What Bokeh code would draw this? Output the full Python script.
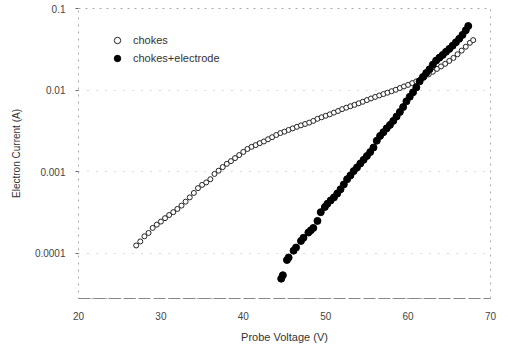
from bokeh.plotting import figure
from bokeh.models import Legend, LegendItem, FixedTicker, Range1d
from bokeh.embed import file_html
from bokeh.resources import INLINE

# ---- data ----
chokes_v = [27.0, 27.5, 28.0, 28.5, 29.0, 29.5, 30.0, 30.5, 31.0, 31.5, 32.0, 32.5,
            33.0, 33.5, 34.0, 34.5, 35.0, 35.5, 36.0, 36.5, 37.0, 37.5, 38.0, 38.5,
            39.0, 39.5, 40.0, 40.5, 41.0, 41.5, 42.0, 42.5, 43.0, 43.5, 44.0, 44.5,
            45.0, 45.5, 46.0, 46.5, 47.0, 47.5, 48.0, 48.5, 49.0, 49.5, 50.0, 50.5,
            51.0, 51.5, 52.0, 52.5, 53.0, 53.5, 54.0, 54.5, 55.0, 55.5, 56.0, 56.5,
            57.0, 57.5, 58.0, 58.5, 59.0, 59.5, 60.0, 60.5, 61.0, 61.5, 62.0, 62.5,
            63.0, 63.5, 64.0, 64.5, 65.0, 65.5, 66.0, 66.5, 67.0, 67.5, 67.9]
chokes_i = [1.25e-4, 1.40e-4, 1.62e-4, 1.78e-4, 2.05e-4, 2.25e-4, 2.45e-4, 2.70e-4,
            2.95e-4, 3.20e-4, 3.50e-4, 3.85e-4, 4.30e-4, 4.85e-4, 5.50e-4, 6.30e-4,
            6.90e-4, 7.40e-4, 8.10e-4, 9.40e-4, 1.03e-3, 1.14e-3, 1.25e-3, 1.35e-3,
            1.47e-3, 1.60e-3, 1.75e-3, 1.90e-3, 2.02e-3, 2.12e-3, 2.24e-3, 2.35e-3,
            2.50e-3, 2.65e-3, 2.82e-3, 2.98e-3, 3.10e-3, 3.25e-3, 3.40e-3, 3.55e-3,
            3.70e-3, 3.85e-3, 4.00e-3, 4.20e-3, 4.45e-3, 4.65e-3, 4.85e-3, 5.05e-3,
            5.30e-3, 5.55e-3, 5.85e-3, 6.10e-3, 6.35e-3, 6.60e-3, 6.90e-3, 7.20e-3,
            7.55e-3, 7.90e-3, 8.25e-3, 8.60e-3, 8.95e-3, 9.30e-3, 9.70e-3, 1.01e-2,
            1.06e-2, 1.11e-2, 1.16e-2, 1.22e-2, 1.28e-2, 1.36e-2, 1.45e-2, 1.56e-2,
            1.68e-2, 1.82e-2, 1.95e-2, 2.10e-2, 2.28e-2, 2.48e-2, 2.75e-2, 3.05e-2,
            3.40e-2, 3.80e-2, 4.10e-2]

electrode_v = [44.6, 44.8, 45.3, 45.5, 46.1, 46.4, 47.0, 47.3, 47.9, 48.2, 48.5, 49.0,
               49.4, 49.9, 50.2, 50.6, 51.0, 51.4, 51.8, 52.2, 52.6, 53.0, 53.4, 53.8,
               54.2, 54.6, 55.0, 55.4, 55.8, 56.2, 56.6, 57.0, 57.4, 57.8, 58.2, 58.6,
               59.0, 59.4, 59.8, 60.2, 60.6, 61.0, 61.4, 61.8, 62.2, 62.6, 63.0, 63.4,
               63.8, 64.2, 64.6, 65.0, 65.4, 65.8, 66.2, 66.6, 67.0, 67.3]
electrode_i = [4.9e-5, 5.4e-5, 8.3e-5, 8.9e-5, 1.08e-4, 1.18e-4, 1.42e-4, 1.55e-4,
               1.80e-4, 1.92e-4, 2.05e-4, 2.50e-4, 3.20e-4, 3.70e-4, 4.05e-4, 4.45e-4,
               4.85e-4, 5.40e-4, 6.10e-4, 7.00e-4, 8.10e-4, 9.00e-4, 1.02e-3, 1.13e-3,
               1.26e-3, 1.40e-3, 1.56e-3, 1.74e-3, 1.98e-3, 2.40e-3, 2.75e-3, 3.05e-3,
               3.40e-3, 3.75e-3, 4.20e-3, 4.75e-3, 5.40e-3, 6.20e-3, 7.30e-3, 8.30e-3,
               9.40e-3, 1.08e-2, 1.28e-2, 1.45e-2, 1.62e-2, 1.80e-2, 2.05e-2, 2.30e-2,
               2.50e-2, 2.70e-2, 2.95e-2, 3.20e-2, 3.50e-2, 3.85e-2, 4.25e-2, 4.75e-2,
               5.40e-2, 6.10e-2]

x_ticks = [20, 30, 40, 50, 60, 70]
y_ticks = [0.0001, 0.001, 0.01, 0.1]
y_tick_labels = {0.0001: "0.0001", 0.001: "0.001", 0.01: "0.01", 0.1: "0.1"}

FONT = "Liberation Sans"
TXT = "#333333"

p = figure(width=508, height=345, y_axis_type="log",
           x_range=Range1d(20, 70), y_range=Range1d(2.8e-5, 0.1),
           output_backend="svg", toolbar_location=None,
           min_border_left=78, min_border_right=18, min_border_top=8,
           min_border_bottom=45)

p.background_fill_color = "white"
p.outline_line_color = "#aaaaaa"
p.outline_line_dash = "2 5"

r1 = p.scatter(chokes_v, chokes_i, marker="circle", size=5,
               fill_color="white", line_color="#222222", line_width=1)
r2 = p.scatter(electrode_v, electrode_i, marker="circle", size=7,
               fill_color="black", line_color="black")

# axes
p.xaxis.ticker = FixedTicker(ticks=x_ticks)
p.yaxis.ticker = FixedTicker(ticks=y_ticks, minor_ticks=[])
p.yaxis.major_label_overrides = y_tick_labels
p.xaxis.minor_tick_line_color = None
p.yaxis.minor_tick_line_color = None

for ax in (p.xaxis, p.yaxis):
    ax.major_label_text_font = FONT
    ax.major_label_text_font_size = "10px"
    ax.major_label_text_color = "#444444"
    ax.axis_label_text_font = FONT
    ax.axis_label_text_font_style = "normal"
    ax.axis_label_text_color = TXT

p.xaxis.axis_label = "Probe Voltage (V)"
p.xaxis.axis_label_text_font_size = "11px"
p.xaxis.axis_line_color = "#888888"
p.xaxis.axis_line_dash = "12 3"
p.xaxis.major_tick_line_color = None
p.xaxis.major_label_standoff = 7
p.xaxis.axis_label_standoff = 8

p.yaxis.axis_label = "Electron Current (A)"
p.yaxis.axis_label_text_font_size = "10px"
p.yaxis.axis_line_color = None
p.yaxis.major_tick_line_color = "#666666"
p.yaxis.major_tick_in = 0
p.yaxis.major_tick_out = 3
p.yaxis.major_label_standoff = 10
p.yaxis.axis_label_standoff = 10

p.xgrid.grid_line_color = None
p.ygrid.grid_line_color = "#bbbbbb"
p.ygrid.grid_line_dash = "1 8"

legend = Legend(items=[LegendItem(label="chokes", renderers=[r1]),
                       LegendItem(label="chokes+electrode", renderers=[r2])],
                location=(31, 231))
legend.background_fill_alpha = 0
legend.border_line_color = None
legend.padding = 0
legend.spacing = 0
legend.margin = 0
legend.glyph_width = 16
legend.glyph_height = 18
legend.label_height = 18
legend.label_standoff = 8
legend.label_text_font = FONT
legend.label_text_font_size = "11px"
legend.label_text_color = TXT
p.add_layout(legend)

open("out.html", "w").write(file_html(p, INLINE))
